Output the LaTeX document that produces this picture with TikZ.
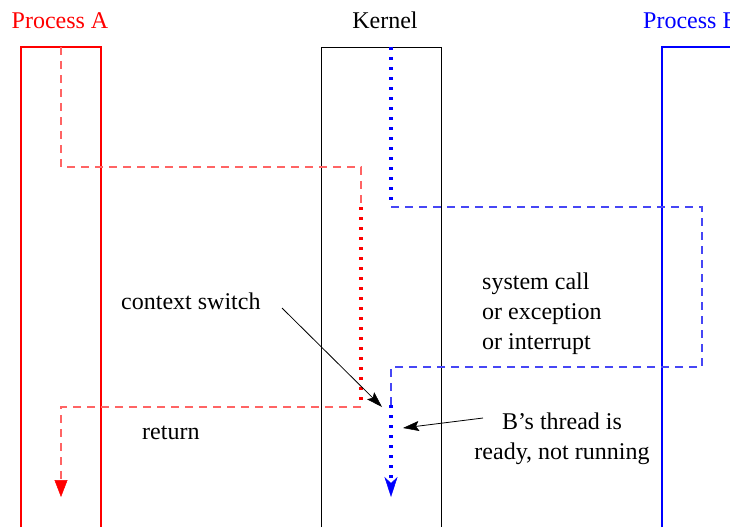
\documentclass[tikz,border=0pt]{standalone}
\usepackage{fontspec}
\setmainfont{Liberation Serif}
\usetikzlibrary{arrows.meta}
\definecolor{dashred}{RGB}{255,100,100}
\definecolor{dashblue}{RGB}{70,70,245}

\begin{document}
\begin{tikzpicture}[
  x=1pt, y=-1pt,
  font=\fontsize{24}{30}\selectfont,
  lane/.style  ={line width=1.6pt},
  kern/.style  ={draw=black, line width=0.8pt},
  flowa/.style ={draw=dashred, line width=1.3pt, dash pattern=on 8pt off 6pt},
  flowb/.style ={draw=dashblue, line width=1.3pt, dash pattern=on 8pt off 6pt},
  runa/.style  ={draw=red, line width=3.4pt, dash pattern=on 3pt off 7pt},
  runb/.style  ={draw=blue, line width=3.4pt, dash pattern=on 3pt off 7pt},
  ptr/.style   ={-{Stealth[length=16pt, width=10pt, inset=3pt, line width=0.5pt]}, line width=0.8pt},
  lbl/.style   ={inner sep=0pt, anchor=base west}
]
\useasboundingbox (0,0) rectangle (730,527);

% the three columns
\draw[lane, red]  (21,527) -- (21,47) -- (101,47) -- (101,527);
\draw[kern]       (321,527) -- (321,47) -- (441,47) -- (441,527);
\draw[lane, blue] (662,527) -- (662,47) -- (740,47);

\node[lbl, red, anchor=base] (procA) at (60,29)  {Process A};
\node[lbl, anchor=base]      (kernel) at (385,29) {Kernel};
\node[lbl, blue]             (procB) at (643,29) {Process B};

% path of process A
\coordinate (a0) at (61,47);
\coordinate (a1) at (61,167);
\coordinate (a2) at (361,167);
\coordinate (a3) at (361,207);
\coordinate (a4) at (361,407);
\coordinate (a5) at (61,407);
\coordinate (a6) at (61,497);

\draw[flowa] (a0) -- (a1) -- (a2) -- (a3);
\draw[runa]  (a3) -- (a4);
\draw[flowa, -{Triangle[length=17pt, width=13pt, color=red, line width=0.5pt]}] (a4) -- (a5) -- (a6);

% path of process B
\coordinate (b0) at (391,47);
\coordinate (b1) at (391,207);
\coordinate (b2) at (702,207);
\coordinate (b3) at (702,367);
\coordinate (b4) at (391,367);
\coordinate (b5) at (391,405);
\coordinate (b6) at (391,497);

\draw[runb]  (b0) -- (b1);
\draw[flowb] (b1) -- (b2) -- (b3) -- (b4) -- (b5);
\draw[runb, -{Stealth[length=20pt, width=13pt, inset=6pt, line width=0.5pt]}] (b5) -- (b6);

% labels (base of a multi-line node = its last line)
\node[lbl] (switch) at (121,309) {context switch};
\node[lbl, align=left] (syscall) at (482,349) {system call\\or exception\\or interrupt};
\node[lbl] (ret) at (142,439) {return};
\node[lbl, align=center, anchor=base] (ready) at (562,459) {B’s thread is\\ready, not running};

\coordinate (switch-from) at (282,308);
\coordinate (switch-to)   at (382,407);
\coordinate (ready-from)  at (483,418);
\coordinate (ready-to)    at (403,428);
\draw[ptr] (switch-from) -- (switch-to);
\draw[ptr] (ready-from) -- (ready-to);
\end{tikzpicture}
\end{document}
